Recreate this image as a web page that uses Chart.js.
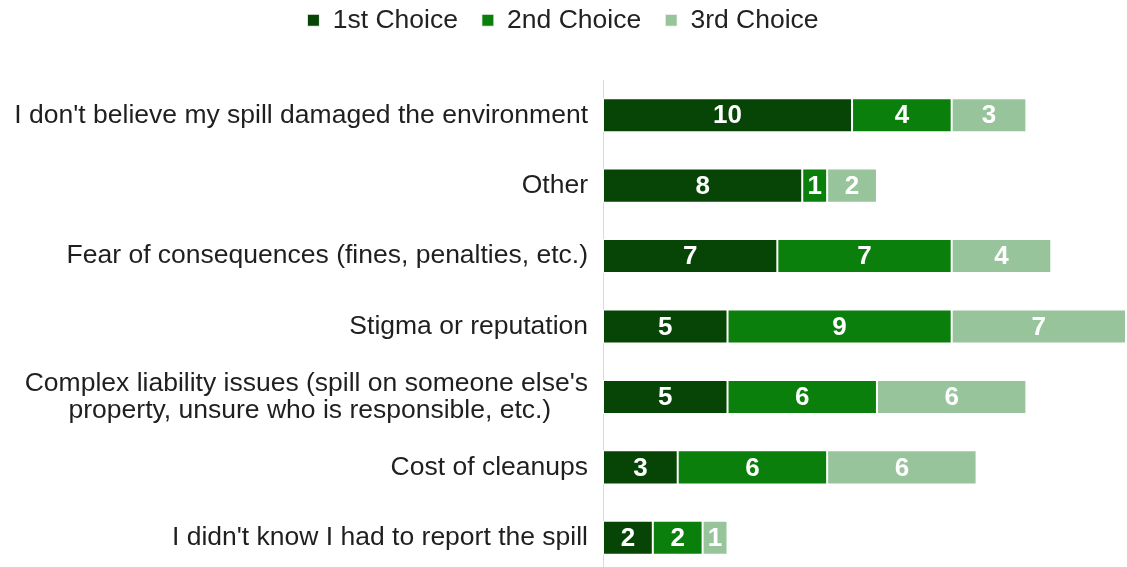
<!DOCTYPE html>
<html>
<head>
<meta charset="utf-8">
<script src="https://cdn.jsdelivr.net/npm/chart.js@4/dist/chart.umd.min.js"></script>
<style>
  html, body { margin: 0; padding: 0; background: #fff; overflow: hidden; }
  #wrap { width: 1127px; height: 573px; }
</style>
</head>
<body>
<div id="wrap"><canvas id="chart" width="1127" height="573"></canvas></div>
<script>
const categories = [
  "I don't believe my spill damaged the environment",
  'Other',
  'Fear of consequences (fines, penalties, etc.)',
  'Stigma or reputation',
  ["Complex liability issues (spill on someone else's", 'property, unsure who is responsible, etc.)     '],
  'Cost of cleanups',
  "I didn't know I had to report the spill",
]
const firstChoice = [10, 8, 7, 5, 5, 3, 2]
const secondChoice = [4, 1, 7, 9, 6, 6, 2]
const thirdChoice = [3, 2, 4, 7, 6, 6, 1]
const seriesNames = ['1st Choice', '2nd Choice', '3rd Choice']
const seriesColors = ['#064505', '#0b7f0b', '#98c49c']

const FONT = "'Liberation Sans', Arial, sans-serif"

// white bold numbers in the middle of each segment
const valueLabels = {
  id: 'valueLabels',
  afterDatasetsDraw(chart) {
    const ctx = chart.ctx
    ctx.save()
    ctx.font = 'bold 26px ' + FONT
    ctx.fillStyle = '#ffffff'
    ctx.textAlign = 'center'
    ctx.textBaseline = 'middle'
    chart.data.datasets.forEach((ds, i) => {
      const meta = chart.getDatasetMeta(i)
      meta.data.forEach((bar, j) => {
        const p = bar.getProps(['x', 'y', 'base'], true)
        ctx.fillText(String(ds.data[j]), (p.x + p.base) / 2, p.y + 1)
      })
    })
    ctx.restore()
  },
}

// legend needs more room below it than Chart.js gives
const legendSpace = {
  id: 'legendSpace',
  beforeInit(chart) {
    const fit = chart.legend.fit
    chart.legend.fit = function () {
      fit.call(this)
      this.height = 97
    }
  },
}

new Chart(document.getElementById('chart'), {
  type: 'bar',
  data: {
    labels: categories,
    datasets: [
      { label: seriesNames[0], data: firstChoice, backgroundColor: seriesColors[0] },
      { label: seriesNames[1], data: secondChoice, backgroundColor: seriesColors[1] },
      { label: seriesNames[2], data: thirdChoice, backgroundColor: seriesColors[2] },
    ],
  },
  options: {
    indexAxis: 'y',
    responsive: false,
    animation: false,
    layout: { padding: { top: -17, right: 1, left: 0, bottom: 0 } },
    datasets: {
      bar: {
        categoryPercentage: 1,
        barPercentage: 0.484,
        borderWidth: 1,
        borderColor: 'rgba(255,255,255,0.85)',
        borderSkipped: false,
      },
    },
    plugins: {
      legend: {
        position: 'top',
        labels: {
          color: '#222',
          font: { family: FONT, size: 26.5 },
          boxWidth: 12,
          boxHeight: 12,
          padding: 24,
        },
      },
      tooltip: { enabled: false },
    },
    scales: {
      x: {
        stacked: true,
        display: false,
        min: 0,
        max: 21,
      },
      y: {
        stacked: true,
        grid: { display: false, drawTicks: false },
        border: { display: true, color: '#d9d9d9', width: 1 },
        ticks: {
          color: '#1f1f1f',
          padding: 15,
          font: { family: FONT, size: 26.5, lineHeight: 1.03 },
        },
        afterFit(scale) {
          scale.width = 603
          scale.paddingTop = 0
          scale.paddingBottom = 0
        },
      },
    },
  },
  plugins: [valueLabels, legendSpace],
})
</script>
</body>
</html>
